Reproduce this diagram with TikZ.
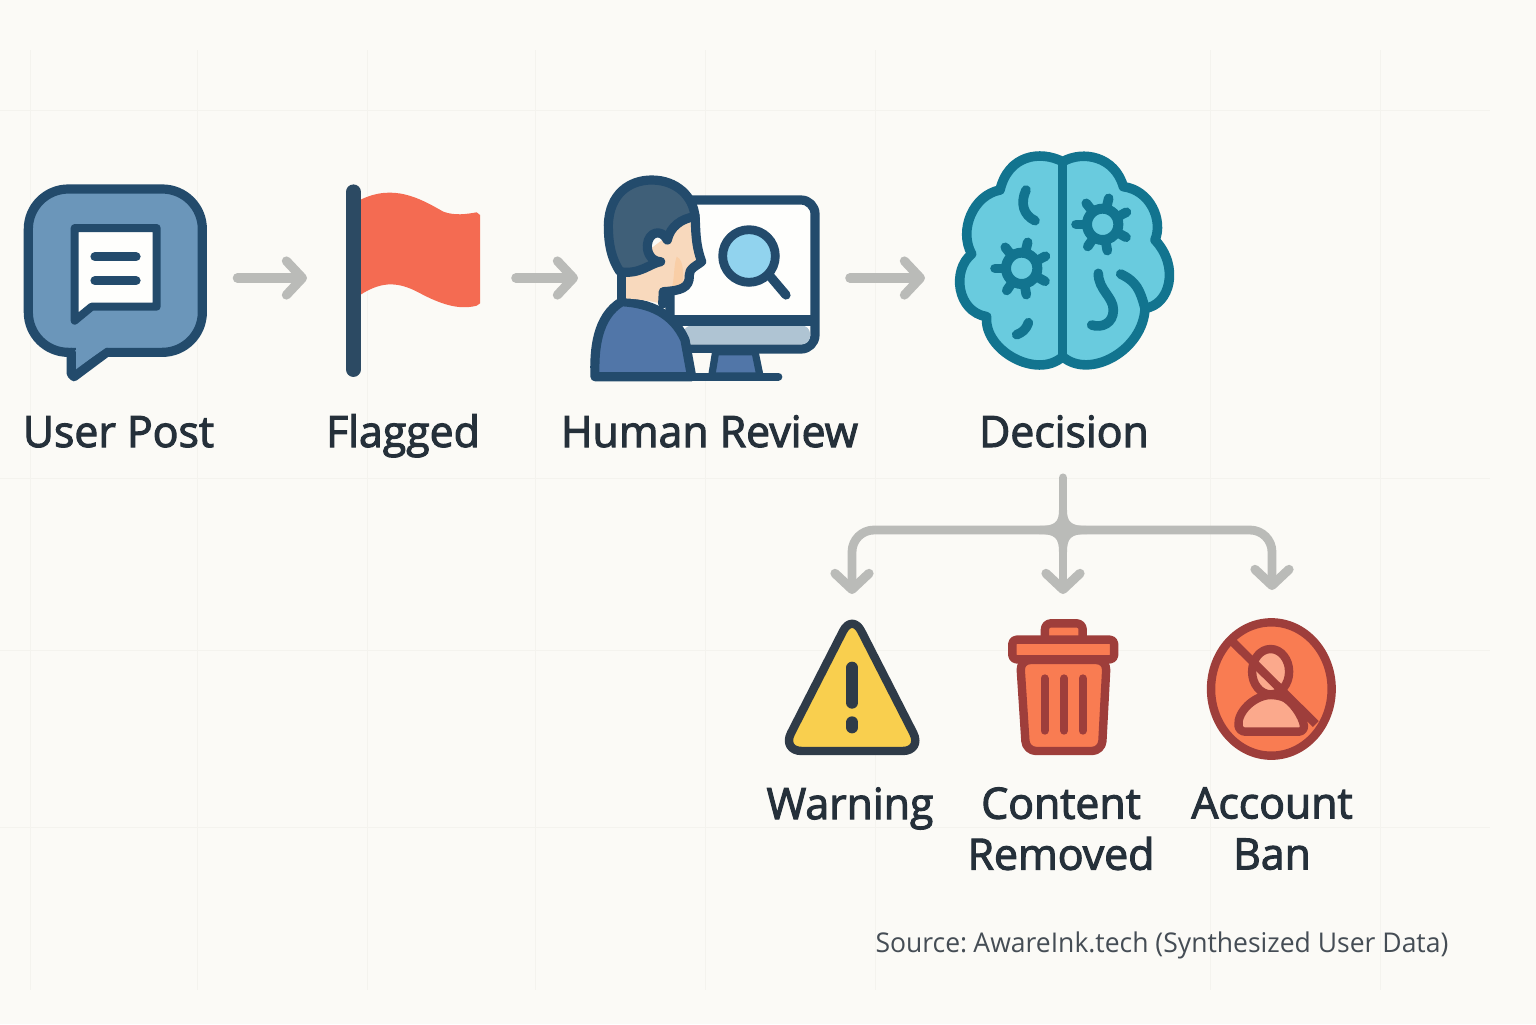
\documentclass[tikz,border=0pt]{standalone}
\usepackage{fontspec}
\setmainfont{Open Sans}
\newfontfamily\labfont[FakeStretch=0.99,FakeBold=2.5]{Open Sans}
\newfontfamily\srcfont[FakeStretch=0.975]{Open Sans}
\usetikzlibrary{arrows.meta}
\definecolor{bgc}{HTML}{FBFAF6}
\definecolor{gridc}{HTML}{F4F3EE}
\definecolor{arrowc}{HTML}{BABBB8}
\definecolor{navy}{HTML}{234B6C}
\definecolor{bubble}{HTML}{6B96BA}
\definecolor{poleC}{HTML}{2C4A63}
\definecolor{flagC}{HTML}{F46B52}
\definecolor{hairC}{HTML}{3F5F78}
\definecolor{skinC}{HTML}{F8D9BD}
\definecolor{shirtC}{HTML}{5176A8}
\definecolor{chinC}{HTML}{AFC4D3}
\definecolor{lensC}{HTML}{91D3EE}
\definecolor{brainF}{HTML}{69CBDE}
\definecolor{brainS}{HTML}{12748F}
\definecolor{warnF}{HTML}{F9CF4E}
\definecolor{warnS}{HTML}{2F3B48}
\definecolor{redS}{HTML}{9E3E3B}
\definecolor{redF}{HTML}{F97C52}
\definecolor{redL}{HTML}{FBA98C}
\definecolor{textC}{HTML}{25303A}
\definecolor{srcC}{HTML}{454D55}
\tikzset{
  iconbox/.style={inner sep=0pt,outer sep=0pt,minimum height=20pt},
  lab/.style={font=\labfont\fontsize{21.6}{25.5}\selectfont,text=textC,align=center,inner sep=0pt},
  flow/.style={draw=arrowc,line width=4.4pt,line cap=round,line join=round,rounded corners=11pt,-{Straight Barb[round,length=8pt,width=17pt,line width=4.6pt]}},
  stem/.style={draw=arrowc,line width=4.4pt,line cap=round},
  zoomed/.style={x=0.16667pt,y=-0.16667pt},
  zoomwide/.style={x=0.185pt,y=-0.16667pt},
  gridl/.style={draw=gridc,line width=0.5pt},
  navyline/.style={draw=navy,line width=4.6pt,line join=round,line cap=round},
  brainline/.style={draw=brainS,line width=4.8pt,line cap=round,line join=round},
  redline/.style={draw=redS,line width=4.2pt,line cap=round,line join=round}
}
\begin{document}
\begin{tikzpicture}[x=0.5pt,y=-0.5pt]
\useasboundingbox (0,0) rectangle (1536,1024);
\fill[bgc] (0,0) rectangle (1536,1024);
% faint background grid
\foreach \gy in {110,478,650,827}{\draw[gridl] (0,\gy) -- (1490,\gy);}
\foreach \gx in {30,197,367,535,705,875,1210,1380}{\draw[gridl] (\gx,50) -- (\gx,990);}

% invisible anchors for the icons
\node[iconbox,minimum width=92pt] (post) at (115.5,278) {};
\node[iconbox,minimum width=68pt] (flag) at (413,278) {};
\node[iconbox,minimum width=114pt] (review) at (706,278) {};
\node[iconbox,minimum width=109pt] (brain) at (1064,278) {};
\node[iconbox,minimum width=68pt,minimum height=66pt] (warn) at (852,688) {};
\node[iconbox,minimum width=56pt,minimum height=68pt] (trash) at (1063,686) {};
\node[iconbox,minimum width=65pt,minimum height=71pt] (ban) at (1272,689) {};

% User Post icon
\begin{scope}[shift={(0,160)},zoomed]
\draw[navyline,fill=bubble,rounded corners=20pt]
  (85,87) -- (607,87) -- (607,577) -- (85,577) -- cycle;
\fill[bubble] (216,570) -- (216,648) -- (320,570) -- cycle;
\draw[navyline] (214,577) -- (214,642) -- (222,650) -- (320,577);
\fill[bubble] (228,556) -- (228,625) -- (318,563) -- (318,556) -- cycle;
\draw[draw=navy,line width=4pt,line join=round,fill=white!70!bgc]
  (224,204) -- (470,204) -- (470,440) -- (275,440) -- (224,482) -- cycle;
\draw[navy,line width=4.6pt,line cap=round] (285,290) -- (408,290);
\draw[navy,line width=4.6pt,line cap=round] (285,362) -- (408,362);
\end{scope}

% Flag icon
\begin{scope}[shift={(0,160)},zoomed]
\fill[flagC] (1080,120) .. controls (1180,70) and (1260,115) .. (1330,155)
  .. controls (1365,168) and (1400,162) .. (1430,157) -- (1440,165) -- (1440,430) -- (1430,437)
  .. controls (1380,450) and (1330,435) .. (1270,405)
  .. controls (1200,365) and (1150,360) .. (1080,405) -- cycle;
\draw[poleC,line width=7.6pt,line cap=round] (1060,96) -- (1060,628);
\end{scope}

% Human Review icon
\begin{scope}[shift={(570,160)},zoomed]
\draw[navyline,fill=white!70!bgc,rounded corners=7pt] (300,120) -- (735,120) -- (735,567) -- (300,567) -- cycle;
\fill[chinC,rounded corners=4pt] (340,497) -- (720,497) -- (720,553) -- (340,553) -- cycle;
\draw[navy,line width=5.2pt] (300,481) -- (735,481);
% magnifier
\draw[navy,line width=4.6pt,line cap=round] (603,352) -- (648,405);
\draw[navy,line width=4.4pt,fill=lensC] (537,288) circle[radius=79];
% stand
\fill[bgc] (365,580) rectangle (430,640);
\draw[navy,line width=3.6pt,fill=shirtC,line join=round] (437,575) -- (425,648) -- (570,648) -- (555,575) -- cycle;
\draw[navy,line width=4pt,line cap=round] (75,650) -- (625,650);
% body
\draw[navyline,fill=shirtC] (75,650) .. controls (72,570) and (80,470) .. (155,425)
  .. controls (240,430) and (310,460) .. (345,540) -- (365,650) -- cycle;
% face
\fill[skinC] (375,165) .. controls (378,210) and (375,250) .. (398,305)
  .. controls (375,320) and (358,325) .. (358,345) .. controls (360,385) and (330,392) .. (280,395)
  -- (278,432) .. controls (240,422) and (190,415) .. (155,415) -- (158,330) -- cycle;
\fill[skinC!88!orange] (320,290) .. controls (345,300) and (340,360) .. (335,380) -- (305,385) .. controls (315,350) and (310,320) .. (320,290) -- cycle;
\draw[navyline] (375,165) .. controls (378,210) and (375,250) .. (395,305)
  .. controls (375,320) and (358,325) .. (358,345) .. controls (360,385) and (330,392) .. (280,395)
  -- (278,432);
\draw[navyline] (155,340) -- (155,420);
% hair
\draw[navyline,fill=hairC] (150,335) .. controls (120,290) and (115,240) .. (115,195)
  .. controls (118,100) and (180,60) .. (245,60) .. controls (320,60) and (370,110) .. (375,170)
  .. controls (335,175) and (300,200) .. (292,240) .. controls (275,205) and (235,215) .. (232,255)
  .. controls (230,285) and (250,305) .. (272,305) .. controls (240,310) and (210,345) .. (150,335) -- cycle;
\end{scope}

% Brain icon
\begin{scope}[shift={(940,140)},zoomed]
\draw[brainline,fill=brainF] (368,65) .. controls (300,30) and (205,45) .. (180,150)
  .. controls (100,165) and (55,270) .. (95,342) .. controls (35,390) and (50,515) .. (140,530)
  .. controls (130,630) and (290,720) .. (368,650)
  .. controls (450,720) and (610,630) .. (615,505) .. controls (690,495) and (720,380) .. (645,300)
  .. controls (670,240) and (630,150) .. (550,140) .. controls (525,50) and (430,30) .. (368,65) -- cycle;
\draw[brainline] (368,65) -- (368,650);
\foreach \cx/\cy in {245/385,488/253}{
  \foreach \ang in {80,29,-27,-77,-128,180,124}{
    \draw[brainline] (\cx,\cy) ++(\ang:48) -- ++(\ang:32);
  }
  \draw[brainS,line width=5pt] (\cx,\cy) circle[radius=47];
}
\draw[brainline] (258,150) .. controls (240,190) and (250,225) .. (285,242);
\draw[brainline] (265,548) .. controls (258,570) and (245,578) .. (230,584);
\draw[brainline] (475,400) .. controls (475,450) and (520,470) .. (520,510) .. controls (520,550) and (485,565) .. (455,555);
\draw[brainline] (542,402) .. controls (590,425) and (600,450) .. (615,505);
\end{scope}

% connectors
\draw[flow,line width=4.8pt,shorten <=15pt,shorten >=19pt] (post.east) -- (flag.west);
\draw[flow,line width=4.8pt,shorten <=17.5pt,shorten >=7pt] (flag.east) -- (review.west);
\draw[flow,line width=4.8pt,shorten <=15pt,shorten >=15pt] (review.east) -- (brain.west);

% labels
\node[lab,anchor=base] (lpost) at (118.5,447) {User Post};
\node[lab,anchor=base] (lflag) at (403,447) {Flagged};
\node[lab,anchor=base] (lreview) at (709.5,447) {Human Review};
\node[lab,anchor=base] (ldec) at (1064,447) {Decision};
\node[lab,anchor=north] (lwarn) at (850,787) {Warning};
\node[lab,anchor=north] (ltrash) at (1061,787) {Content\\Removed};
\node[lab,anchor=north] (lban) at (1272,787) {Account\\Ban};
\node[font=\srcfont\fontsize{13.6}{16}\selectfont,text=srcC,inner sep=0pt] (src) at (1162,945) {Source:\hspace{-1.5pt} AwareInk.tech (Synthesized User Data)};

% Decision tree
\coordinate (hub) at (1063,530);
\draw[stem] (ldec.south) ++(-1,30) -- (hub);
\draw[flow] (hub) -| ([yshift=14pt]warn.north);
\draw[flow] (hub) -| ([yshift=14pt]ban.north);
\draw[flow,rounded corners=0pt] (hub) -- ([yshift=12pt]trash.north);
\fill[arrowc] (1067,510) .. controls (1067,522) and (1071,526) .. (1087,526)
  -- (1087,534) .. controls (1071,534) and (1067,538) .. (1067,552)
  -- (1059,552) .. controls (1059,538) and (1055,534) .. (1039,534)
  -- (1039,526) .. controls (1055,526) and (1059,522) .. (1059,510) -- cycle;

% Warning icon
\begin{scope}[shift={(770,600)},zoomwide]
\draw[warnS,fill=warnF,line width=4.2pt,line join=round,rounded corners=10pt] (222,40) -- (32,453) -- (412,453) -- cycle;
\draw[warnS,line width=6pt,line cap=round] (222,203) -- (222,308);
\draw[warnS,line width=6pt,line cap=round] (222,367) -- (222,382);
\end{scope}

% Trash icon
\begin{scope}[shift={(770,600)},zoomwide]
\draw[redline,fill=redF,rounded corners=3pt] (743,125) -- (743,70) -- (845,70) -- (845,125);
\draw[redline,fill=redF,rounded corners=5pt] (676,180) -- (692,453) -- (897,453) -- (910,180) -- cycle;
\draw[redline,fill=redF,rounded corners=2pt] (655,119) -- (930,119) -- (930,178) -- (655,178) -- cycle;
\foreach \rx in {742,795,845}{\draw[redS,line width=4pt,line cap=round] (\rx,235) -- (\rx,392);}
\end{scope}

% Account Ban icon
\begin{scope}[shift={(770,600)},zoomwide]
\draw[redline,fill=redF] (1355,267) ellipse[x radius=163,y radius=200];
\draw[redline,fill=redL] (1353,215) ellipse[x radius=50,y radius=68];
\draw[redline,fill=redL,rounded corners=3pt] (1268,395) .. controls (1262,335) and (1310,285) .. (1370,285) .. controls (1410,300) and (1440,350) .. (1445,395) -- cycle;
\draw[redline,line cap=butt] (1250,125) -- (1475,372);
\end{scope}
\end{tikzpicture}
\end{document}
